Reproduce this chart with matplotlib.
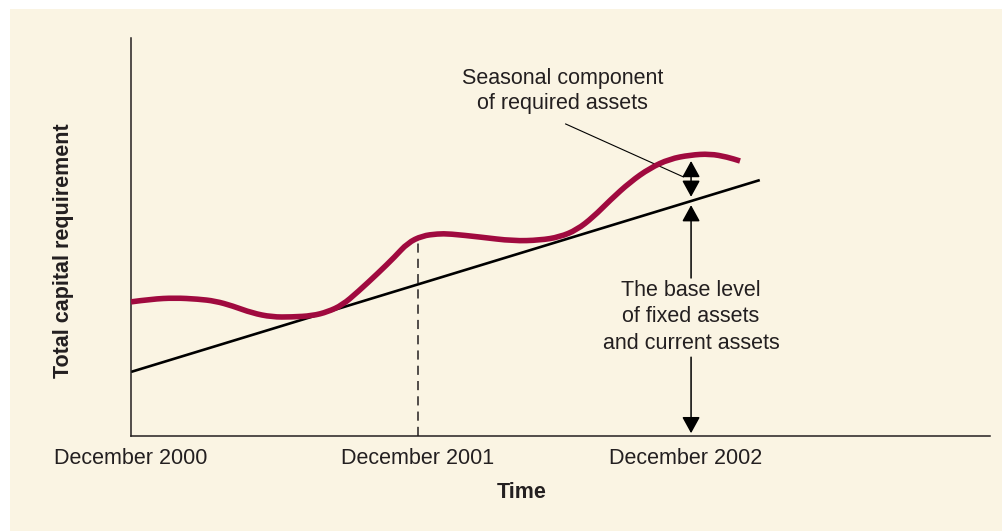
#!/usr/bin/env python3
"""Total capital requirement over time: seasonal vs. base level of assets."""

import matplotlib

matplotlib.use("Agg")
import matplotlib.pyplot as plt
from matplotlib.patches import PathPatch, Rectangle
from matplotlib.path import Path

# horizontal / vertical positions on a 0-100 schematic scale
TICK_POS = [0.0, 33.4, 64.6]
TICK_LABELS = ["December 2000", "December 2001", "December 2002"]

# total requirement (seasonal swings on top of the trend)
TOTAL_X = [0.0, 2.4, 5.1, 7.8, 9.8, 11.8, 14.1, 16.4, 18.7, 21.1, 22.9,
           24.6, 26.4, 28.8, 30.7, 32.2, 33.9, 35.7, 37.1, 40.6, 44.5,
           47.6, 49.9, 51.9, 53.8, 55.8, 58.1, 60.4, 62.7, 65.1, 67.4,
           69.4, 70.9]
TOTAL_Y = [33.7, 34.4, 34.7, 34.4, 33.9, 32.7, 30.9, 29.9, 29.9, 30.2,
           31.2, 32.9, 36.2, 41.0, 45.0, 48.5, 50.3, 50.8, 50.8, 50.0,
           49.0, 49.2, 50.0, 51.8, 55.0, 59.3, 63.8, 67.3, 69.6, 70.6,
           70.9, 70.1, 69.1]

# base level of fixed + current assets (straight trend)
BASE_X = [0.0, 73.2]
BASE_Y = [16.1, 64.3]

DEC2001_TOP = 50.0
SEASONAL_ARROW = (65.2, 69.1, 60.1)   # x, top, bottom
BASE_ARROW = (65.2, 58.0, 0.7)
BASE_ARROW_GAP = (39.7, 19.8)
LEADER_X = [50.6, 64.3]
LEADER_Y = [78.4, 65.1]

BG = "#FAF4E3"
INK = "#231F20"
RED = "#A00A3F"
FS = 15.5

plt.rcParams["font.family"] = ["Liberation Sans", "DejaVu Sans"]


def smooth_path(xs, ys):
    """Quadratic Bezier through the midpoints, using the points as controls."""
    pts = list(zip(xs, ys))
    verts = [pts[0]]
    codes = [Path.MOVETO]
    for i in range(1, len(pts) - 1):
        mid = ((pts[i][0] + pts[i + 1][0]) / 2, (pts[i][1] + pts[i + 1][1]) / 2)
        verts += [pts[i], mid]
        codes += [Path.CURVE3, Path.CURVE3]
    verts.append(pts[-1])
    codes.append(Path.LINETO)
    return Path(verts, codes)


W, H = 1002, 531
fig = plt.figure(figsize=(W / 100, H / 100), dpi=100, facecolor="white")
fig.patches.append(Rectangle((10 / W, 0), 1 - 10 / W, 1 - 9 / H,
                             transform=fig.transFigure, facecolor=BG,
                             edgecolor="none", zorder=-10))

ax = fig.add_axes([131 / W, 95 / H, (990 - 131) / W, (436 - 38) / H])
ax.set_facecolor("none")
ax.set_xlim(0, 100)
ax.set_ylim(0, 100)
for side in ("top", "right"):
    ax.spines[side].set_visible(False)
for side in ("left", "bottom"):
    ax.spines[side].set_linewidth(1.1)
    ax.spines[side].set_color(INK)
ax.set_yticks([])
ax.set_xticks(TICK_POS, TICK_LABELS)
ax.tick_params(axis="x", length=0, pad=9, labelsize=FS, labelcolor=INK)

ax.plot(BASE_X, BASE_Y, color="black", linewidth=1.9, solid_capstyle="butt")
ax.add_patch(PathPatch(smooth_path(TOTAL_X, TOTAL_Y), facecolor="none",
                       edgecolor=RED, linewidth=4.0, capstyle="butt",
                       joinstyle="round", zorder=3))
ax.plot([TICK_POS[1], TICK_POS[1]], [0, DEC2001_TOP], color=INK,
        linewidth=1.1, linestyle=(0, (6, 4)))

arrow_kw = dict(arrowstyle="<|-|>,head_length=1.0,head_width=0.55",
                mutation_scale=10, color="black", linewidth=1.1,
                shrinkA=0, shrinkB=0)
x, top, bot = SEASONAL_ARROW
ax.annotate("", xy=(x, top), xytext=(x, bot), arrowprops=arrow_kw)

# base-level arrow is split around its label
x, top, bot = BASE_ARROW
head_kw = dict(arrowstyle="-|>,head_length=1.0,head_width=0.55",
               mutation_scale=10, color="black", linewidth=1.1,
               shrinkA=0, shrinkB=0)
ax.annotate("", xy=(x, top), xytext=(x, BASE_ARROW_GAP[0]), arrowprops=head_kw)
ax.annotate("", xy=(x, bot), xytext=(x, BASE_ARROW_GAP[1]), arrowprops=head_kw)

ax.plot(LEADER_X, LEADER_Y, color="black", linewidth=0.8)

ax.text(50.2, 86.8, "Seasonal component\nof required assets", ha="center",
        va="center", fontsize=FS, color=INK, linespacing=1.25)
ax.text(65.2, 29.9, "The base level\nof fixed assets\nand current assets",
        ha="center", va="center", fontsize=FS, color=INK, linespacing=1.32)

fig.text(522 / W, 1 - 493 / H, "Time", ha="center", va="center",
         fontsize=FS, fontweight="bold", color=INK)
fig.text(64 / W, 1 - 251 / H, "Total capital requirement", ha="center",
         va="center", rotation=90, fontsize=FS, fontweight="bold", color=INK)

fig.savefig("out.png", dpi=100, facecolor=fig.get_facecolor())
